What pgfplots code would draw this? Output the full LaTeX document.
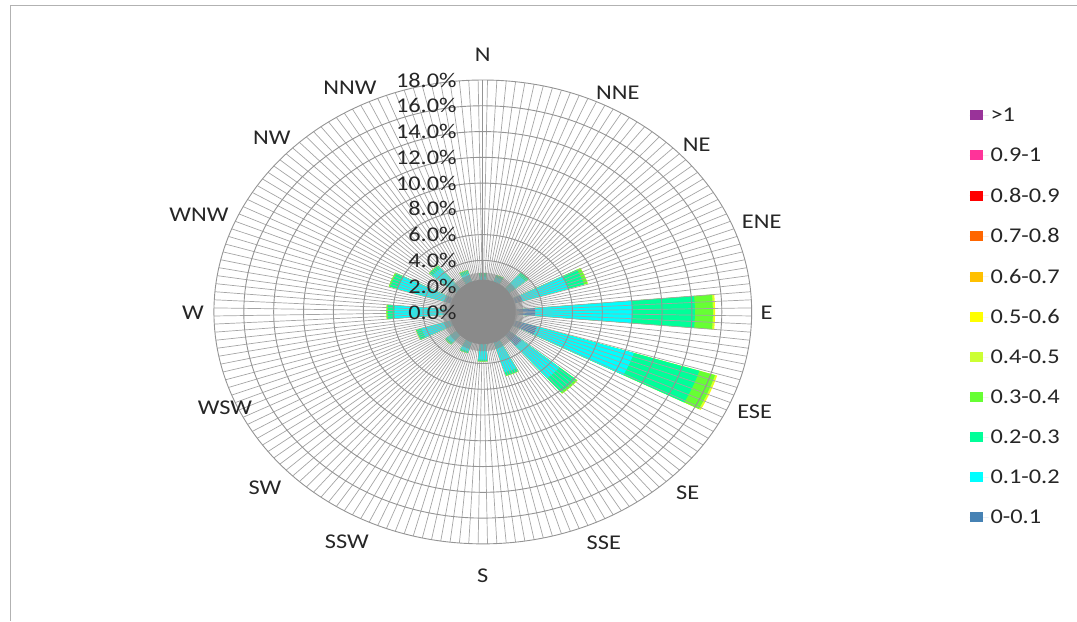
\documentclass[border=0pt]{standalone}
\usepackage{fontspec}
\setmainfont{Carlito}[FakeStretch=1.16]
\usepackage{pgfplots}
\usepackage{pgfplotstable}
\pgfplotsset{compat=1.18}
\definecolor{col1}{RGB}{70,130,180}
\definecolor{col2}{RGB}{0,255,255}
\definecolor{col3}{RGB}{0,255,153}
\definecolor{col4}{RGB}{102,255,51}
\definecolor{col5}{RGB}{204,255,51}
\definecolor{col6}{RGB}{255,255,0}
\definecolor{col7}{RGB}{255,192,0}
\definecolor{col8}{RGB}{255,102,0}
\definecolor{col9}{RGB}{255,0,0}
\definecolor{col10}{RGB}{255,51,153}
\definecolor{col11}{RGB}{153,51,153}
\definecolor{spokecol}{RGB}{165,165,165}
\definecolor{ringcol}{RGB}{148,148,148}
\definecolor{blobcol}{RGB}{138,138,138}
\newcommand\lbl{\fontsize{21bp}{25bp}\selectfont}

% direction (deg from N, clockwise) and cumulative frequency (%) per speed class
\pgfplotstableread{
d     c1   c2    c3    c4    c5    c6
0     1.4  2.75  3.0   3.02  3.02  3.02
22.5  1.4  2.8   2.98  3.0   3.0   3.0
45    1.8  3.7   3.95  4.0   4.0   4.0
67.5  2.8  6.0   7.1   7.35  7.37  7.37
90    3.5  10.0  14.2  15.4  15.5  15.55
112.5 3.8  10.6  15.2  16.3  16.4  16.45
135   3.4  6.7   8.1   8.25  8.27  8.27
157.5 2.5  4.9   5.15  5.2   5.2   5.2
180   2.0  3.7   3.82  3.85  3.85  3.85
202.5 1.6  3.2   3.33  3.35  3.35  3.35
225   1.6  3.1   3.28  3.3   3.3   3.3
247.5 2.0  4.3   4.65  4.7   4.7   4.7
270   2.5  5.9   6.35  6.45  6.45  6.45
292.5 2.6  5.95  6.5   6.6   6.6   6.6
315   2.2  4.4   4.65  4.7   4.7   4.7
337.5 1.6  3.1   3.35  3.4   3.4   3.4
}\rose

% wedge outline: angular offset (deg) and radius flag
\pgfplotstableread{
o  f
-5 0
-5 1
-3 1
-1 1
1  1
3  1
5  1
5  0
}\wshape

\begin{document}
\begin{tikzpicture}
\begin{axis}[
  scale only axis, width=1077bp, height=621bp,
  xmin=-32.32, xmax=39.75, ymin=-23.97, ymax=24.21,
  hide axis, clip=false,
  legend style={at={(axis cs:32.57,16.0)}, anchor=north west, draw=none, fill=none,
    font=\lbl, text=black!85, row sep=20.8bp, inner sep=0pt,
    nodes={inner sep=2bp}},
  legend cell align=left,
  legend image code/.code={\fill[#1] (0bp,-5bp) rectangle (13bp,5bp); \path (0bp,0bp) -- (19bp,0bp);},
]
\path (rel axis cs:0,0) rectangle (rel axis cs:1,1);
\addlegendimage{fill=col11, draw=none}\addlegendentry{>1}
\addlegendimage{fill=col10, draw=none}\addlegendentry{0.9-1}
\addlegendimage{fill=col9, draw=none}\addlegendentry{0.8-0.9}
\addlegendimage{fill=col8, draw=none}\addlegendentry{0.7-0.8}
\addlegendimage{fill=col7, draw=none}\addlegendentry{0.6-0.7}
\addlegendimage{fill=col6, draw=none}\addlegendentry{0.5-0.6}
\addlegendimage{fill=col5, draw=none}\addlegendentry{0.4-0.5}
\addlegendimage{fill=col4, draw=none}\addlegendentry{0.3-0.4}
\addlegendimage{fill=col3, draw=none}\addlegendentry{0.2-0.3}
\addlegendimage{fill=col2, draw=none}\addlegendentry{0.1-0.2}
\addlegendimage{fill=col1, draw=none}\addlegendentry{0-0.1}

\pgfplotsforeachungrouped \i in {0,...,15}{%
  \pgfplotstablegetelem{\i}{d}\of\rose \let\dd\pgfplotsretval
  \pgfplotsforeachungrouped \k in {6,5,4,3,2,1}{%
    \pgfplotstablegetelem{\i}{c\k}\of\rose \let\cc\pgfplotsretval
    \edef\doit{\noexpand\addplot[forget plot, draw=none, fill=col\k]
      table[x expr={\noexpand\thisrow{f}*\cc*sin(\dd+\noexpand\thisrow{o})},
            y expr={\noexpand\thisrow{f}*\cc*cos(\dd+\noexpand\thisrow{o})}]
      {\noexpand\wshape};}%
    \doit
  }%
}

% grid on top
\pgfplotsinvokeforeach{1,3,...,359}{%
  \draw[spokecol, line width=0.7bp] (axis cs:0,0) -- (axis cs:{18*sin(#1)},{18*cos(#1)});}
\draw[ringcol, line width=0.8bp] (axis cs:0,0) -- (axis cs:0,18);
\pgfplotsinvokeforeach{2,4,...,18}{%
  \draw[ringcol, line width=0.9bp] (axis cs:0,0) ellipse [x radius=#1, y radius=#1];}

% dense centre where the spokes meet
\fill[blobcol, opacity=0.55] (axis cs:0,0) ellipse [x radius=2.7, y radius=3.05];
\fill[blobcol] (axis cs:0,0) ellipse [x radius=2.2, y radius=2.5];

% radial labels
\pgfplotsinvokeforeach{0,2,...,18}{%
  \node[anchor=east, font=\lbl, text=black!85, inner sep=0pt] at (axis cs:-1.74,#1) {#1.0\%};}

% direction labels
\begin{scope}[every node/.style={font=\lbl, text=black!85, inner sep=0pt}]
\node at (axis cs:0,19.94) {N};
\node at (axis cs:9.03,16.99) {NNE};
\node at (axis cs:14.32,12.96) {NE};
\node at (axis cs:18.67,6.98) {ENE};
\node at (axis cs:19.0,-0.08) {E};
\node at (axis cs:18.2,-7.76) {ESE};
\node at (axis cs:13.72,-14.0) {SE};
\node at (axis cs:8.10,-17.9) {SSE};
\node at (axis cs:0,-20.5) {S};
\node at (axis cs:-9.10,-17.8) {SSW};
\node at (axis cs:-14.59,-13.65) {SW};
\node at (axis cs:-17.26,-7.45) {WSW};
\node at (axis cs:-19.41,-0.08) {W};
\node at (axis cs:-19.0,7.53) {WNW};
\node at (axis cs:-14.12,13.5) {NW};
\node at (axis cs:-8.9,17.38) {NNW};
\end{scope}

% chart area border
\draw[black!30, line width=0.8bp] (rel axis cs:{10/1077},0) -- (rel axis cs:{10/1077},{1-5/621}) -- (rel axis cs:1,{1-5/621});
\end{axis}
\end{tikzpicture}
\end{document}
